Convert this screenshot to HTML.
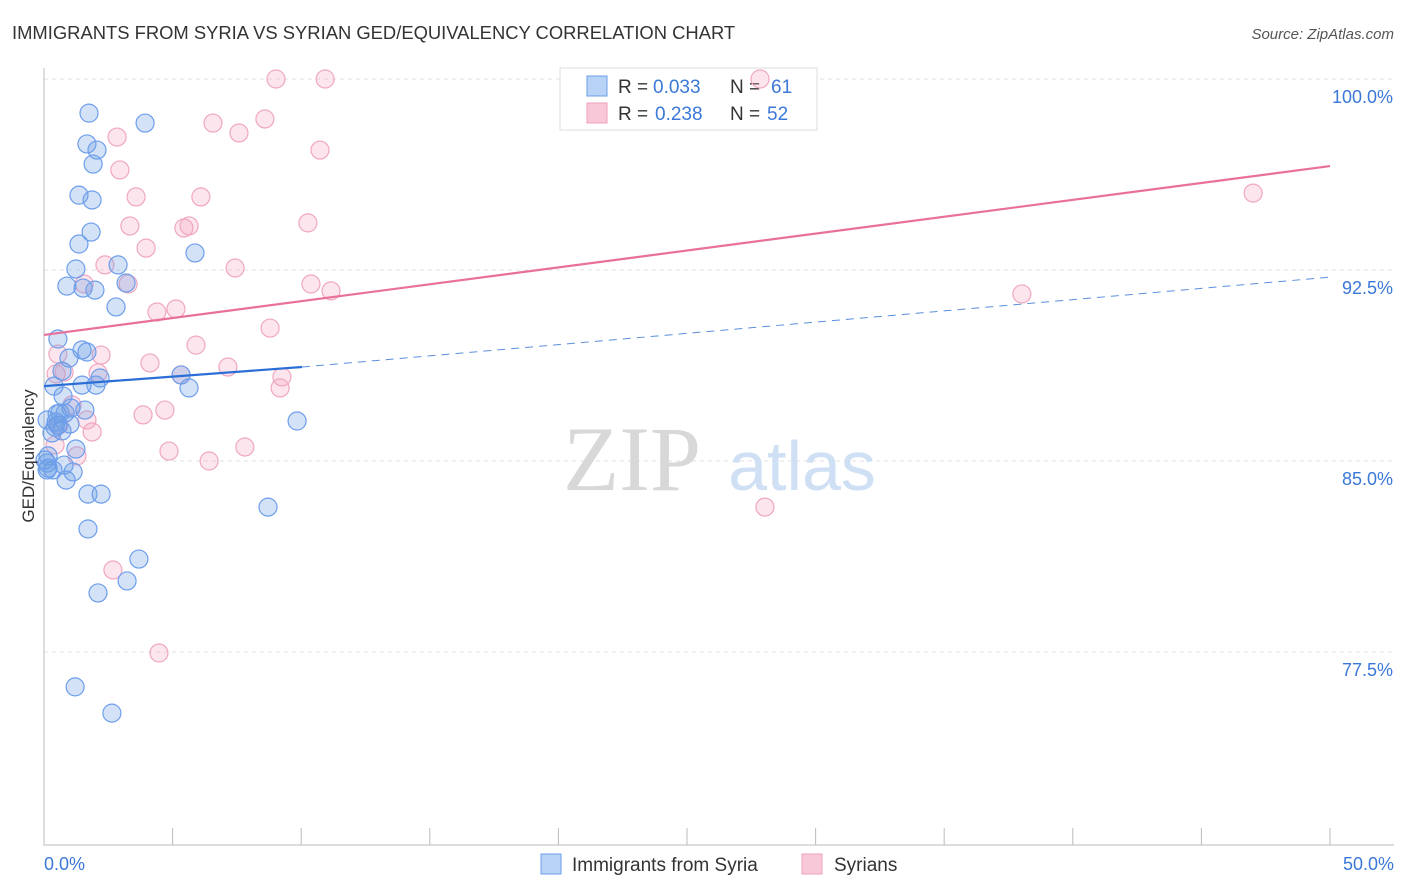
<!DOCTYPE html>
<html><head><meta charset="utf-8"><style>
body{margin:0;background:#fff;font-family:"Liberation Sans",sans-serif}
svg{display:block}
</style></head><body>
<svg width="1406" height="892" xmlns="http://www.w3.org/2000/svg">
<text x="12" y="39" font-size="18.4" fill="#333">IMMIGRANTS FROM SYRIA VS SYRIAN GED/EQUIVALENCY CORRELATION CHART</text>
<text x="1394" y="39" font-size="15" fill="#555" font-style="italic" text-anchor="end">Source: ZipAtlas.com</text>
<g id="grid"></g>
<text x="632" y="490" font-size="92" fill="#d8d8d8" font-family="Liberation Serif" text-anchor="middle">ZIP</text>
<text x="802" y="490" font-size="70" fill="#cfe0f5" text-anchor="middle">atlas</text>
<g>
<rect x="560" y="68" width="257" height="62" fill="#fff" stroke="#ddd"/>
<rect x="587" y="76" width="20" height="20" fill="#b8d3f5" stroke="#6d9eeb"/>
<rect x="587" y="103" width="20" height="20" fill="#f9c8d8" stroke="#f0a0bb"/>
<text x="618" y="93" font-size="19" fill="#333">R =</text>
<text x="653" y="93" font-size="19" fill="#3b78d8">0.033</text>
<text x="730" y="93" font-size="19" fill="#333">N =</text>
<text x="771" y="93" font-size="19" fill="#3b78d8">61</text>
<text x="618" y="120" font-size="19" fill="#333">R =</text>
<text x="655" y="120" font-size="19" fill="#3b78d8">0.238</text>
<text x="730" y="120" font-size="19" fill="#333">N =</text>
<text x="767" y="120" font-size="19" fill="#3b78d8">52</text>
</g>
<g id="points"></g>
<g id="lines"></g>
<text x="34" y="456" font-size="17" fill="#333" text-anchor="middle" transform="rotate(-90 34 456)">GED/Equivalency</text>
<text x="44" y="870" font-size="18" fill="#3b78d8">0.0%</text>
<text x="1394" y="870" font-size="18" fill="#3b78d8" text-anchor="end">50.0%</text>
<g>
<rect x="541" y="854" width="20" height="20" fill="#b8d3f5" stroke="#6d9eeb"/>
<text x="572" y="871" font-size="19" fill="#333">Immigrants from Syria</text>
<rect x="802" y="854" width="20" height="20" fill="#f9c8d8" stroke="#f0a0bb"/>
<text x="834" y="871" font-size="19" fill="#333">Syrians</text>
</g>
</svg>
<script>
const blueX=[1.75,3.93,1.67,2.06,1.91,1.36,1.87,1.83,1.36,5.87,1.24,2.88,0.89,1.52,1.98,3.19,2.80,0.54,1.67,1.48,0.97,0.70,2.18,5.33,5.64,0.39,1.48,2.02,0.74,1.05,1.59,0.62,0.51,0.82,0.43,1.01,0.31,0.70,9.84,1.24,0.16,0.12,0.12,0.78,1.13,0.86,1.71,2.22,8.71,1.71,3.69,3.23,2.10,1.21,2.64,0.12,0.54,0.35,0.16,0.04,0.47];
const blueY=[98.66,98.27,97.45,97.21,96.66,95.44,95.25,93.99,93.52,93.17,92.54,92.70,91.87,91.79,91.71,91.99,91.05,89.79,89.28,89.36,89.04,88.53,88.26,88.38,87.87,87.94,87.98,87.98,87.55,87.08,87.00,86.88,86.85,86.88,86.33,86.45,86.10,86.18,86.57,85.47,85.20,84.92,84.65,84.84,84.57,84.25,83.70,83.70,83.19,82.33,81.15,80.29,79.82,76.13,75.10,86.61,86.41,84.65,84.72,85.04,86.53];
const pinkX=[9.02,10.93,27.84,8.59,6.57,2.84,7.58,10.73,2.95,3.58,6.10,3.34,5.44,5.64,10.26,3.97,7.43,2.37,1.56,3.27,10.38,11.16,4.39,5.13,8.79,5.91,0.54,2.22,4.12,7.15,0.47,0.78,9.25,9.18,2.10,5.33,1.09,4.70,3.85,1.67,1.87,0.58,0.43,7.81,4.86,6.42,1.28,28.03,2.68,4.47,38.02,47.01];
const pinkY=[100,100,100,98.43,98.27,97.72,97.88,97.21,96.43,95.37,95.37,94.23,94.15,94.23,94.35,93.36,92.58,92.70,91.95,91.95,91.95,91.68,90.85,90.97,90.22,89.55,89.20,89.16,88.85,88.69,88.42,88.49,88.30,87.87,88.46,88.38,87.20,87.00,86.81,86.61,86.14,86.41,85.63,85.55,85.39,85.00,85.20,83.19,80.72,77.46,91.56,95.52];
const yTicks=[100,92.5,85,77.5];
const yTickLabels=["100.0%","92.5%","85.0%","77.5%"];
const blueTrendX=[0,10.03,50];
const blueTrend=[87.94,88.69,92.22];
const pinkTrend=[89.95,96.58]; // at x=0, 50
const NS='http://www.w3.org/2000/svg';
const sx=v=>44+v/50*1286;
const sy=v=>79+(100-v)/7.5*191;
function mk(tag,attrs,parent){const e=document.createElementNS(NS,tag);for(const k in attrs)e.setAttribute(k,attrs[k]);parent.appendChild(e);return e;}
const grid=document.getElementById('grid');
yTicks.forEach((t,i)=>{
 const l=mk('line',{x1:44,x2:1394,y1:sy(t),y2:sy(t),stroke:'#e2e2e2','stroke-dasharray':'4 4'},grid);
 
 
 const tx=mk('text',{x:1393,y:sy(t)+24,'font-size':18,fill:'#3b78d8','text-anchor':'end'},grid);
 tx.textContent=yTickLabels[i];
 
 
});
const ax=mk('path',{d:'M44 68V845H1394',stroke:'#bbb',fill:'none'},grid);


for(let i=0;i<=10;i++){
 const tk=mk('line',{x1:sx(i*5),x2:sx(i*5),y1:828,y2:845,stroke:'#bbb'},grid);
 
 
}
const pts=document.getElementById('points');
pinkX.forEach((x,i)=>{
 const c=mk('circle',{cx:sx(x),cy:sy(pinkY[i]),r:9,fill:'rgba(244,160,190,0.28)',stroke:'#f0a7c0','stroke-width':1.2},pts);
 
 
});
blueX.forEach((x,i)=>{
 const c=mk('circle',{cx:sx(x),cy:sy(blueY[i]),r:9,fill:'rgba(110,160,230,0.3)',stroke:'#6d9eeb','stroke-width':1.2},pts);
 
 
});
const ln=document.getElementById('lines');
const pl=mk('line',{x1:sx(0),y1:sy(pinkTrend[0]),x2:sx(50),y2:sy(pinkTrend[1]),stroke:'#e8709a','stroke-width':2.2},ln);


const bd=mk('line',{x1:sx(blueTrendX[1]),y1:sy(blueTrend[1]),x2:sx(blueTrendX[2]),y2:sy(blueTrend[2]),stroke:'#5a8fdc','stroke-width':1,'stroke-dasharray':'8 6'},ln);


const bl=mk('line',{x1:sx(blueTrendX[0]),y1:sy(blueTrend[0]),x2:sx(blueTrendX[1]),y2:sy(blueTrend[1]),stroke:'#2b6fd6','stroke-width':2.2},ln);


</script>
</body></html>
